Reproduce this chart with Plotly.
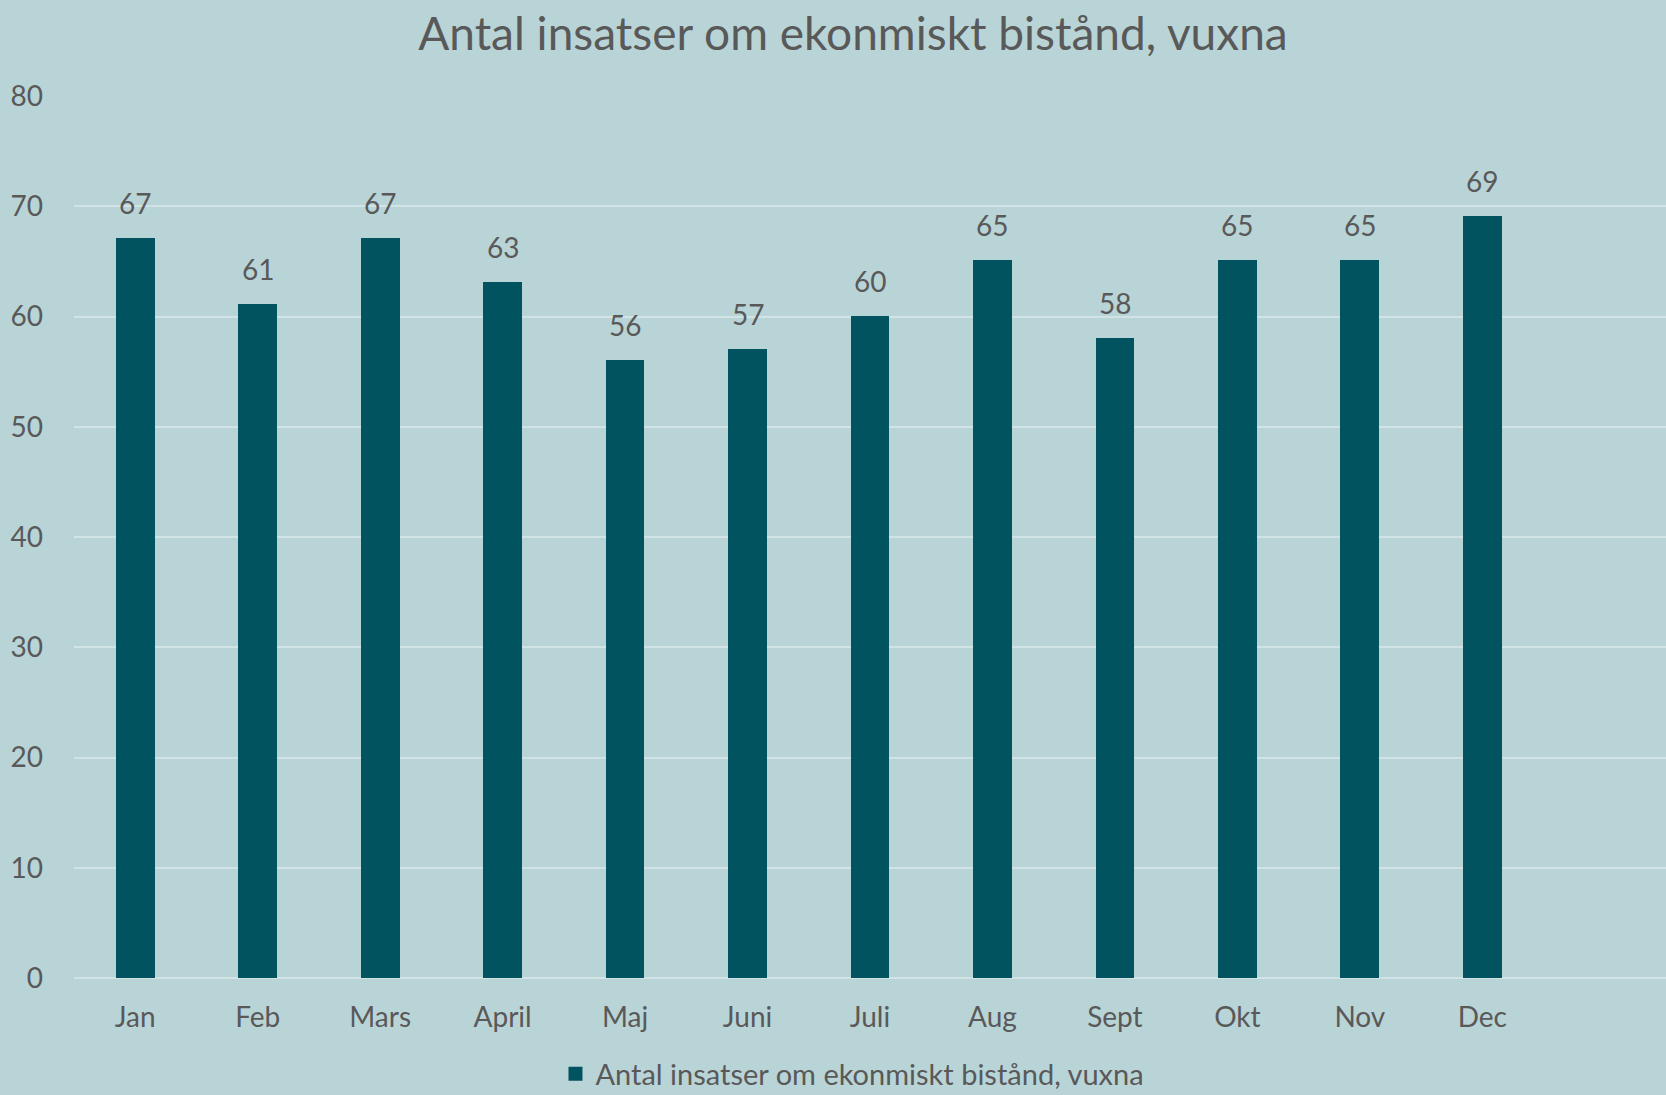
import plotly.graph_objects as go

months = ["Jan", "Feb", "Mars", "April", "Maj", "Juni", "Juli", "Aug", "Sept", "Okt", "Nov", "Dec"]
values = [67, 61, 67, 63, 56, 57, 60, 65, 58, 65, 65, 69]
series_name = "Antal insatser om ekonmiskt bistånd, vuxna"
title_text = "Antal insatser om ekonmiskt bistånd, vuxna"
y_ticks = [0, 10, 20, 30, 40, 50, 60, 70, 80]

BG = "#B9D4D7"
BAR = "#00535F"
TXT = "#595959"
GRID = "#D2E3E5"
FONT = "Lato"

x_pos = list(range(len(months)))

fig = go.Figure()
fig.add_trace(go.Bar(
    x=x_pos, y=values, name=series_name, width=0.30,
    marker=dict(color=BAR, line=dict(width=2, color=BAR)),
    showlegend=True,
))

for xi, v in zip(x_pos, values):
    fig.add_annotation(x=xi, y=v, text=str(v), showarrow=False,
                       yanchor="bottom", yshift=17,
                       font=dict(family=FONT, size=28, color=TXT))

fig.update_layout(
    width=1666, height=1095,
    paper_bgcolor=BG, plot_bgcolor=BG,
    margin=dict(l=74, r=0, t=96, b=117, pad=0),
    title=dict(text=title_text, x=0.512, xanchor="center", y=1 - 34 / 1095, yanchor="middle",
               yref="container", font=dict(family=FONT, size=46, color=TXT)),
    font=dict(family=FONT, color=TXT),
    showlegend=True,
    legend=dict(orientation="h", x=0.489, xanchor="center",
                yref="container", y=1 - 1074 / 1095, yanchor="middle",
                font=dict(family=FONT, size=29, color=TXT), bgcolor="rgba(0,0,0,0)",
                itemwidth=30),
    bargap=0,
)
fig.update_xaxes(range=[-0.5, 12.5], tickvals=x_pos, ticktext=months,
                 showgrid=False, zeroline=False, showline=False,
                 ticks="", ticklabelstandoff=20,
                 tickfont=dict(family=FONT, size=28, color=TXT))
fig.update_yaxes(range=[0, 80], tickvals=y_ticks, showgrid=True, gridcolor=GRID, gridwidth=2,
                 zeroline=True, zerolinecolor=GRID, zerolinewidth=2, showline=False,
                 ticks="", ticklabelstandoff=30,
                 tickfont=dict(family=FONT, size=28, color=TXT))

fig.write_html("out.html", config={"displayModeBar": False},
               post_script="document.body.style.margin='0';document.body.style.overflow='hidden';")
